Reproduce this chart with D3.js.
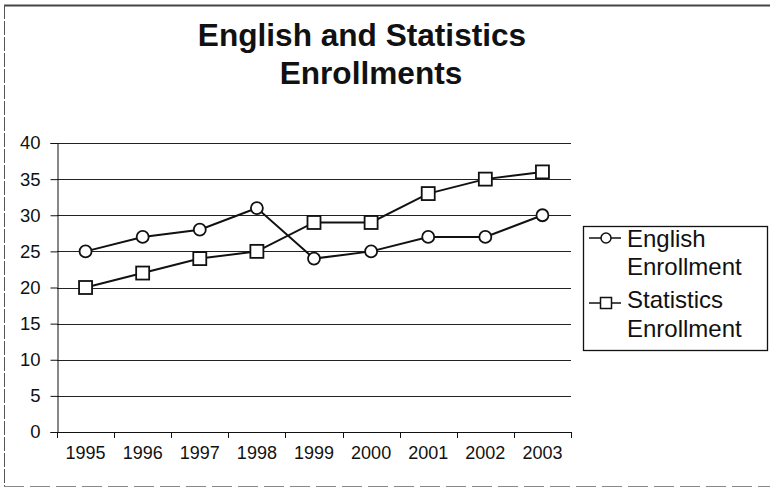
<!DOCTYPE html>
<html>
<head>
<meta charset="utf-8">
<script src="https://cdn.jsdelivr.net/npm/d3@7"></script>
<style>
  html, body { margin: 0; padding: 0; background: #fff; }
  svg { display: block; font-family: "Liberation Sans", Arial, sans-serif; }
</style>
</head>
<body>
<svg id="chart" width="770" height="488"></svg>
<script>
const years = ["1995","1996","1997","1998","1999","2000","2001","2002","2003"];
const englishEnrollment = [25, 27, 28, 31, 24, 25, 27, 27, 30];
const statisticsEnrollment = [20, 22, 24, 25, 29, 29, 33, 35, 36];
const yTicks = [0, 5, 10, 15, 20, 25, 30, 35, 40];
const titleLines = ["English and Statistics", "Enrollments"];
const seriesNames = [["English", "Enrollment"], ["Statistics", "Enrollment"]];

const svg = d3.select("#chart");
const ink = "#111";

// outer frame (top, left, bottom as in the scanned page)
svg.append("line").attr("x1", 4).attr("x2", 770).attr("y1", 5.5).attr("y2", 5.5)
  .attr("stroke", "#444").attr("stroke-width", 2);
svg.append("line").attr("x1", 4.5).attr("x2", 4.5).attr("y1", 5).attr("y2", 487)
  .attr("stroke", "#555").attr("stroke-width", 1).attr("stroke-dasharray", "14,2");
svg.append("line").attr("x1", 4).attr("x2", 770).attr("y1", 486.5).attr("y2", 486.5)
  .attr("stroke", "#888").attr("stroke-width", 1).attr("stroke-dasharray", "20,6");

// title
const titleX = [362, 371], titleY = [46, 84];
svg.selectAll("text.title").data(titleLines).join("text")
  .attr("class", "title")
  .attr("x", (d, i) => titleX[i]).attr("y", (d, i) => titleY[i])
  .attr("text-anchor", "middle").attr("font-size", 31.6).attr("font-weight", "bold")
  .attr("fill", ink).text(d => d);

const x = d3.scaleBand().domain(years).range([57, 571]).padding(0);
const y = d3.scaleLinear().domain([0, 40]).range([432, 143]);

// gridlines
svg.append("g").selectAll("line").data(yTicks).join("line")
  .attr("x1", 57).attr("x2", 571)
  .attr("y1", d => Math.round(y(d)) + 0.5).attr("y2", d => Math.round(y(d)) + 0.5)
  .attr("stroke", "#222").attr("stroke-width", 1);

// y axis
const yAxis = svg.append("g").attr("transform", "translate(57.5,0)")
  .call(d3.axisLeft(y).tickValues(yTicks).tickSize(7).tickPadding(10).tickFormat(d3.format("d")));
yAxis.select(".domain").attr("stroke", ink);
yAxis.selectAll(".tick line").attr("stroke", ink);
yAxis.selectAll("text").attr("font-size", 18.5).attr("fill", ink)
  .attr("font-family", "'Liberation Sans', Arial, sans-serif");

// x axis (labels at band centers, ticks at band boundaries)
const xAxis = svg.append("g").attr("transform", "translate(0,432.5)")
  .call(d3.axisBottom(x).tickSize(0).tickPadding(14));
xAxis.select(".domain").remove();
xAxis.selectAll("text").attr("font-size", 18).attr("fill", ink)
  .attr("font-family", "'Liberation Sans', Arial, sans-serif");
svg.append("line").attr("x1", 57).attr("x2", 571).attr("y1", 432.5).attr("y2", 432.5)
  .attr("stroke", ink);
const boundaries = years.map(d => x(d)).concat([x(years[years.length - 1]) + x.bandwidth()]);
svg.append("g").selectAll("line").data(boundaries).join("line")
  .attr("x1", d => Math.round(d) + 0.5).attr("x2", d => Math.round(d) + 0.5)
  .attr("y1", 432).attr("y2", 438).attr("stroke", ink);

const cx = d => x(d) + x.bandwidth() / 2;
const line = d3.line().x(d => cx(d[0])).y(d => y(d[1]));

const engPts = years.map((d, i) => [d, englishEnrollment[i]]);
const statPts = years.map((d, i) => [d, statisticsEnrollment[i]]);

svg.append("path").datum(engPts).attr("d", line)
  .attr("fill", "none").attr("stroke", ink).attr("stroke-width", 2);
svg.append("path").datum(statPts).attr("d", line)
  .attr("fill", "none").attr("stroke", ink).attr("stroke-width", 2);

svg.append("g").selectAll("circle").data(engPts).join("circle")
  .attr("cx", d => cx(d[0])).attr("cy", d => y(d[1])).attr("r", 6)
  .attr("fill", "#fff").attr("stroke", ink).attr("stroke-width", 1.8);
svg.append("g").selectAll("rect").data(statPts).join("rect")
  .attr("x", d => cx(d[0]) - 6.5).attr("y", d => y(d[1]) - 6.5)
  .attr("width", 13).attr("height", 13)
  .attr("fill", "#fff").attr("stroke", ink).attr("stroke-width", 1.8);

// legend
const lg = svg.append("g");
lg.append("rect").attr("x", 583.5).attr("y", 226.5).attr("width", 184).attr("height", 124)
  .attr("fill", "#fff").attr("stroke", ink).attr("stroke-width", 1.3);
const markerY = [238, 303];
const textY = [[247, 275], [308, 337]];
seriesNames.forEach((names, i) => {
  lg.append("line").attr("x1", 589).attr("x2", 621).attr("y1", markerY[i]).attr("y2", markerY[i])
    .attr("stroke", ink).attr("stroke-width", 1.5);
  if (i === 0) {
    lg.append("circle").attr("cx", 606).attr("cy", markerY[i]).attr("r", 5)
      .attr("fill", "#fff").attr("stroke", ink).attr("stroke-width", 1.5);
  } else {
    lg.append("rect").attr("x", 600.5).attr("y", markerY[i] - 5.5).attr("width", 11).attr("height", 11)
      .attr("fill", "#fff").attr("stroke", ink).attr("stroke-width", 1.5);
  }
  names.forEach((t, j) => {
    lg.append("text").attr("x", 627).attr("y", textY[i][j]).attr("font-size", 24)
      .attr("fill", ink).text(t);
  });
});
</script>
</body>
</html>
